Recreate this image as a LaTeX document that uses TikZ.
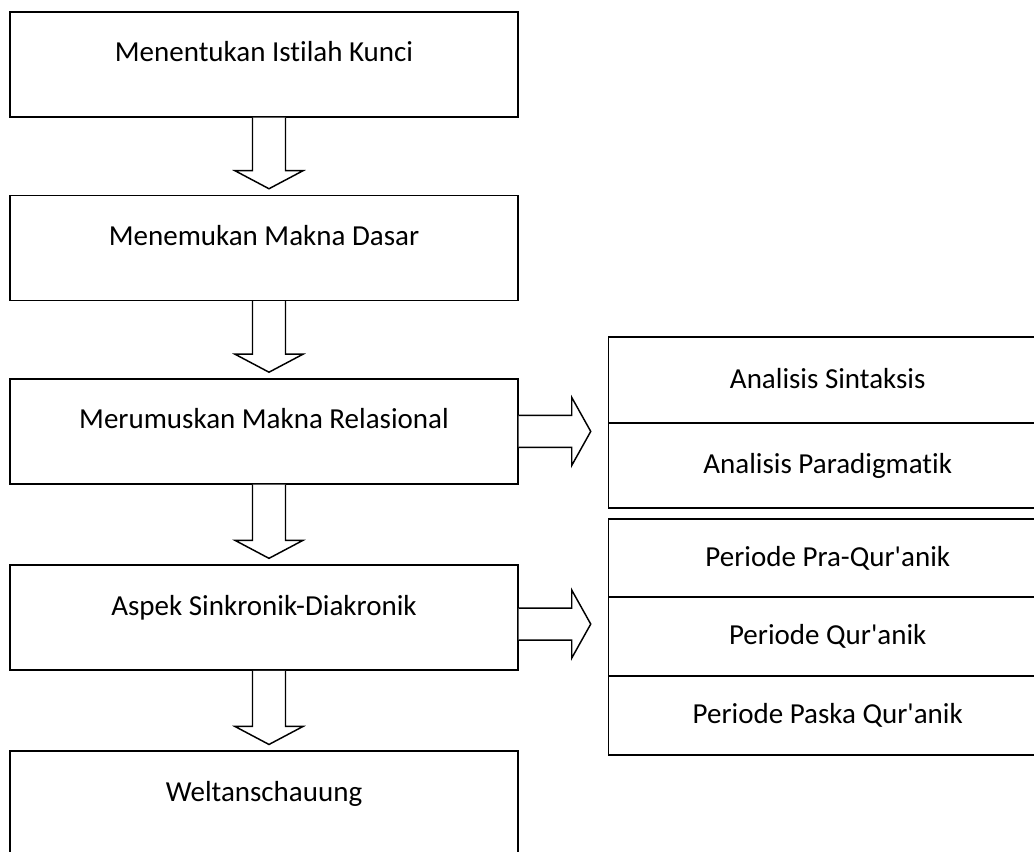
\documentclass[tikz,border=0pt]{standalone}
\usepackage{fontspec}
\setmainfont{Carlito}[Ligatures={TeX,NoCommon}]
\usetikzlibrary{positioning,calc}
\tikzset{
  stepbox/.style={rectangle,draw=black,line width=1.1pt,minimum width=381pt,minimum height=78.75pt,inner sep=0pt,text height=15pt,text depth=18.75pt,align=center},
  cellbox/.style={rectangle,draw=black,line width=1.1pt,outer sep=0pt,minimum width=328.5pt,inner sep=0pt,text height=14pt,text depth=2pt,align=center},
  blockarrow/.style={draw=black,fill=white,line width=1.1pt,line join=miter},
}
% hollow block arrow, downwards from #1 to #2
\newcommand{\flowdown}[2]{%
  \draw[blockarrow] ($(#1.south)+(-11.5,0)$) -- ($(#2.north)+(-11.5,24)$) -- ($(#2.north)+(-29,24)$) -- ($(#2.north)+(5,6)$) -- ($(#2.north)+(39,24)$) -- ($(#2.north)+(21.5,24)$) -- ($(#1.south)+(21.5,0)$);}
% hollow block arrow, rightwards from #1 to #2 (#3 = vertical shift)
\newcommand{\flowright}[3]{%
  \coordinate (s) at ($(#1.east)+(0,#3)$);
  \coordinate (w) at (#2.west |- s);
  \draw[blockarrow] ($(s)+(0,16)$) -- ($(w)+(-37,16)$) -- ($(w)+(-37,34)$) -- ($(w)+(-18,0)$) -- ($(w)+(-37,-34)$) -- ($(w)+(-37,-16)$) -- ($(s)+(0,-16)$);}

\begin{document}
\begin{tikzpicture}[x=0.75pt,y=0.75pt,font=\fontsize{21.75}{26}\selectfont]
  \useasboundingbox (0,0) rectangle (1034,-852);
  % ── Main steps ──
  \node[stepbox] (kunci) at (264,-64.5) {Menentukan Istilah Kunci};
  \node[stepbox, below=57.75pt of kunci] (dasar) {Menemukan Makna Dasar};
  \node[stepbox, below=57.75pt of dasar] (relasi) {Merumuskan Makna Relasional};
  \node[stepbox, below=59.75pt of relasi] (aspek) {Aspek Sinkronik-Diakronik};
  \node[stepbox, below=59.75pt of aspek] (welt) {Weltanschauung};

  % ── Relational analysis ──
  \node[cellbox, minimum height=64.5pt, anchor=north west] (sintaksis) at ($(relasi.north east)+(90,41)$) {Analisis Sintaksis};
  \node[cellbox, minimum height=63.75pt, below=0pt of sintaksis] (paradigma) {Analisis Paradigmatik};

  % ── Periods ──
  \node[cellbox, minimum height=58.5pt, below=8.25pt of paradigma] (praq) {Periode Pra-Qur\textquotesingle anik};
  \node[cellbox, minimum height=59.25pt, below=0pt of praq] (quran) {Periode Qur\textquotesingle anik};
  \node[cellbox, minimum height=59.25pt, below=0pt of quran] (paska) {Periode Paska Qur\textquotesingle anik};

  % ── Arrows ──
  \flowdown{kunci}{dasar}
  \flowdown{dasar}{relasi}
  \flowdown{relasi}{aspek}
  \flowdown{aspek}{welt}
  \flowright{relasi}{sintaksis}{0}
  \flowright{aspek}{praq}{-6.5}
\end{tikzpicture}
\end{document}
